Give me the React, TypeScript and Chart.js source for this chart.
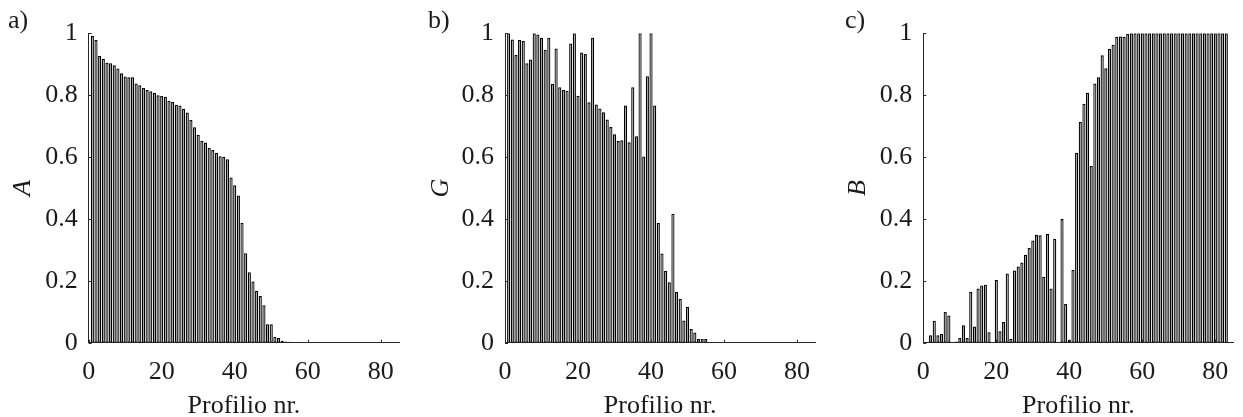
import React, { useEffect, useRef } from "react";
import { Chart, registerables } from "chart.js";

Chart.register(...registerables);

// ---------- data ----------
const profiles: number[] = Array.from({ length: 83 }, (_, i) => i + 1);
const xTickValues = [0, 20, 40, 60, 80];
const yTickValues = [0, 0.2, 0.4, 0.6, 0.8, 1];

const valuesA = [
  0.991, 0.978, 0.927, 0.918, 0.905, 0.903, 0.897, 0.886, 0.871, 0.86,
  0.858, 0.858, 0.838, 0.832, 0.823, 0.817, 0.813, 0.808, 0.8, 0.797,
  0.795, 0.782, 0.778, 0.769, 0.767, 0.756, 0.744, 0.72, 0.696, 0.672,
  0.653, 0.647, 0.629, 0.623, 0.614, 0.603, 0.601, 0.593, 0.534, 0.509,
  0.476, 0.388, 0.289, 0.228, 0.198, 0.168, 0.151, 0.121, 0.06, 0.06,
  0.019, 0.015, 0.006, 0.004, 0.003, 0.002, 0.002, 0.001, 0.001, 0.001,
  0.001, 0.001, 0.001, 0.001, 0.001, 0.001, 0.001, 0.001, 0.001, 0.001,
  0.001, 0.001, 0.001, 0.001, 0.001, 0.001, 0.001, 0.001, 0.001, 0.001,
  0.001, 0.001, 0.001,
];

const valuesG = [
  1.0, 0.98, 0.93, 0.978, 0.975, 0.903, 0.915, 1.0, 0.996, 0.986,
  0.947, 0.986, 0.837, 0.951, 0.826, 0.817, 0.814, 0.967, 1.0, 0.798,
  0.938, 0.933, 0.777, 0.986, 0.77, 0.757, 0.745, 0.721, 0.697, 0.674,
  0.652, 0.654, 0.767, 0.648, 0.826, 0.667, 1.0, 0.602, 0.861, 1.0,
  0.767, 0.387, 0.288, 0.232, 0.195, 0.417, 0.165, 0.141, 0.072, 0.115,
  0.044, 0.033, 0.012, 0.012, 0.012, 0.002, 0.002, 0.001, 0.001, 0.001,
  0.001, 0.001, 0.001, 0.001, 0.001, 0.001, 0.001, 0.001, 0.001, 0.001,
  0.001, 0.001, 0.001, 0.001, 0.001, 0.001, 0.001, 0.001, 0.001, 0.001,
  0.001, 0.001, 0.001,
];

const valuesB = [
  0.0, 0.024, 0.071, 0.024, 0.028, 0.099, 0.088, 0.002, 0.004, 0.015,
  0.056, 0.015, 0.164, 0.052, 0.175, 0.185, 0.187, 0.034, 0.0, 0.203,
  0.037, 0.067, 0.224, 0.013, 0.233, 0.246, 0.259, 0.284, 0.306, 0.33,
  0.349, 0.347, 0.213, 0.351, 0.175, 0.336, 0.0, 0.4, 0.125, 0.009,
  0.235, 0.614, 0.713, 0.772, 0.808, 0.571, 0.838, 0.858, 0.929, 0.887,
  0.95, 0.963, 0.989, 0.99, 0.989, 0.998, 1.0, 1.0, 1.0, 1.0,
  1.0, 1.0, 1.0, 1.0, 1.0, 1.0, 1.0, 1.0, 1.0, 1.0,
  1.0, 1.0, 1.0, 1.0, 1.0, 1.0, 1.0, 1.0, 1.0, 1.0,
  1.0, 1.0, 1.0,
];

const panelLabels = ["a)", "b)", "c)"];
const yTitles = ["A", "G", "B"];
const xTitle = "Profilio nr.";
const seriesList = [valuesA, valuesG, valuesB];

// ---------- layout / style ----------
const H = 417;
const AREA_TOP = 33.3;
const AREA_BOTTOM = 342.7;
const panels = [
  { left: 8, width: 408, areaLeft: 80.7, areaRight: 391.0, yTitlePad: 2 },
  { left: 428, width: 406, areaLeft: 77.0, areaRight: 387.3, yTitlePad: 0 },
  { left: 845, width: 398, areaLeft: 78.3, areaRight: 388.6, yTitlePad: 0 },
];
const FONT = '"Liberation Serif", "Times New Roman", serif';
const TEXT = "#1a1a1a";
const AXIS = "#262626";

const decorPlugin = {
  id: "decor",
  afterDraw(chart: any, _args: any, opts: any) {
    const { ctx, chartArea, scales } = chart;
    ctx.save();
    ctx.strokeStyle = AXIS;
    ctx.lineWidth = 1;
    ctx.beginPath();
    for (const t of scales.y.ticks) {
      const y = Math.round(scales.y.getPixelForValue(t.value)) + 0.5;
      ctx.moveTo(chartArea.left, y);
      ctx.lineTo(chartArea.left + 3, y);
    }
    for (const t of scales.x.ticks) {
      const x = Math.round(scales.x.getPixelForValue(t.value)) + 0.5;
      ctx.moveTo(x, chartArea.bottom);
      ctx.lineTo(x, chartArea.bottom - 3);
    }
    ctx.stroke();
    ctx.fillStyle = TEXT;
    ctx.font = `26px ${FONT}`;
    ctx.textAlign = "left";
    ctx.textBaseline = "middle";
    ctx.fillText(opts.label, 0, 21);
    ctx.restore();
  },
};

function Panel({ idx }: { idx: number }) {
  const ref = useRef<HTMLCanvasElement | null>(null);
  const p = panels[idx];
  useEffect(() => {
    if (!ref.current) return;
    const values = seriesList[idx];
    const chart = new Chart(ref.current, {
      type: "bar",
      data: {
        datasets: [
          {
            data: profiles.map((x, i) => ({ x, y: values[i] })),
            backgroundColor: "#a6a6a6",
            borderColor: "#000000",
            borderWidth: 1.25,
            borderSkipped: false,
            barPercentage: 0.86,
            categoryPercentage: 1,
          } as any,
        ],
      },
      options: {
        animation: false,
        responsive: false,
        devicePixelRatio: 1,
        layout: {
          padding: { top: AREA_TOP, left: 0, bottom: 0, right: p.width - p.areaRight },
        },
        plugins: {
          legend: { display: false },
          tooltip: { enabled: false },
          decor: { label: panelLabels[idx] },
        } as any,
        scales: {
          x: {
            type: "linear",
            min: 0,
            max: 85,
            offset: false,
            grid: { display: false, drawTicks: false, offset: false },
            border: { display: true, color: AXIS, width: 1, z: 1 } as any,
            afterBuildTicks: (s: any) => {
              s.ticks = xTickValues.map((v) => ({ value: v }));
            },
            afterFit: (s: any) => {
              s.height = H - AREA_BOTTOM;
            },
            ticks: {
              maxRotation: 0,
              autoSkip: false,
              padding: 13.4,
              color: TEXT,
              font: { family: FONT, size: 26 },
              callback: (v: any) => String(v),
            },
            title: {
              display: true,
              text: xTitle,
              color: TEXT,
              font: { family: FONT, size: 26, lineHeight: 0.85 },
              padding: 0,
            },
          },
          y: {
            type: "linear",
            min: 0,
            max: 1,
            grid: { display: false, drawTicks: false },
            border: { display: true, color: AXIS, width: 1, z: 1 } as any,
            afterBuildTicks: (s: any) => {
              s.ticks = yTickValues.map((v) => ({ value: v }));
            },
            afterFit: (s: any) => {
              s.width = p.areaLeft;
            },
            ticks: {
              padding: 11,
              color: TEXT,
              font: { family: FONT, size: 26 },
              callback: (v: any) => String(Math.round(Number(v) * 10) / 10),
            },
            title: {
              display: true,
              text: yTitles[idx],
              color: TEXT,
              font: { family: FONT, size: 26, style: "italic", lineHeight: 1 },
              padding: { top: p.yTitlePad, bottom: 0 },
            },
          },
        },
      },
      plugins: [decorPlugin as any],
    });
    return () => chart.destroy();
  }, [idx]);
  return (
    <canvas
      ref={ref}
      width={p.width}
      height={H}
      style={{ position: "absolute", left: p.left, top: 0, width: p.width, height: H }}
    />
  );
}

export default function App() {
  return (
    <div style={{ position: "absolute", left: 0, top: 0, width: 1243, height: H, background: "#fff" }}>
      <Panel idx={0} />
      <Panel idx={1} />
      <Panel idx={2} />
    </div>
  );
}
